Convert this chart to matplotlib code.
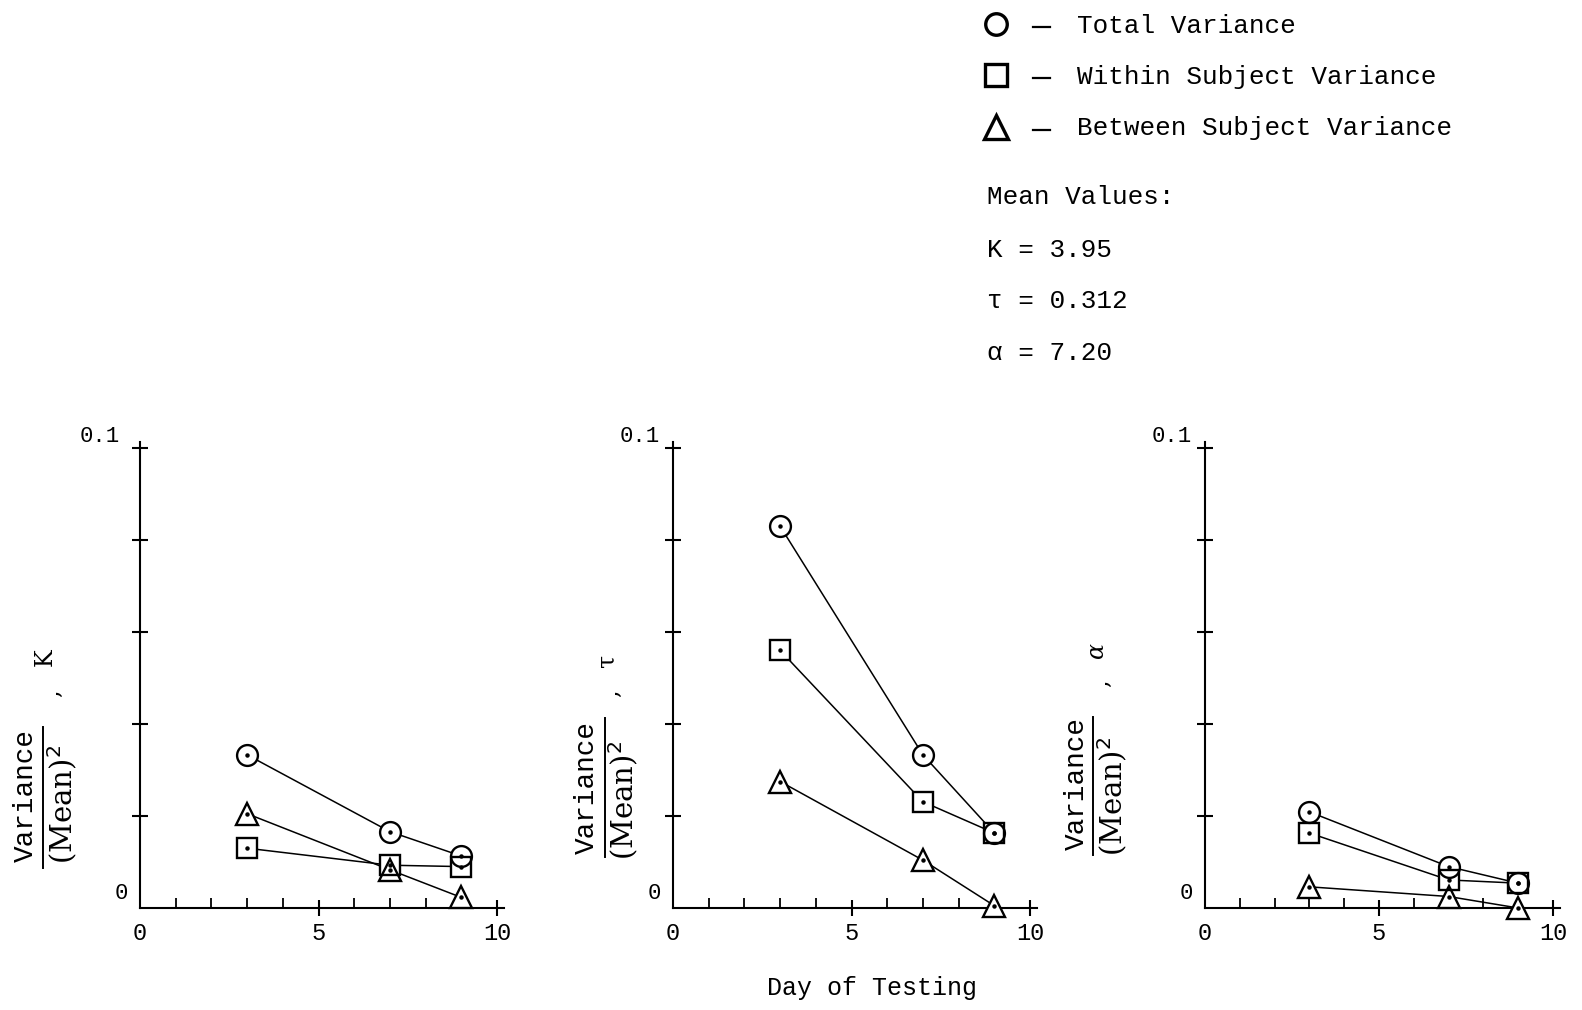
import matplotlib
matplotlib.use("Agg")
import matplotlib.pyplot as plt

# ---------------- data ----------------
days = [3, 7, 9]
param_names = ["K", "τ", "α"]
total_variance = [
    [0.0333, 0.0166, 0.0113],   # K
    [0.0830, 0.0333, 0.0163],   # tau
    [0.0209, 0.0090, 0.0054],   # alpha
]
within_variance = [
    [0.0130, 0.0093, 0.0090],
    [0.0560, 0.0231, 0.0163],
    [0.0163, 0.0061, 0.0054],
]
between_variance = [
    [0.0205, 0.0083, 0.0023],
    [0.0275, 0.0104, 0.0005],
    [0.0046, 0.0025, 0.0000],
]
series_labels = ["Total Variance", "Within Subject Variance", "Between Subject Variance"]
mean_labels = ["K = 3.95", "τ = 0.312", "α = 7.20"]
x_ticks = [0, 5, 10]
x_tick_labels = ["0", "5", "10"]
y_ticks = [0.02, 0.04, 0.06, 0.08, 0.10]

# ---------------- layout ----------------
W, H = 1582, 1010
SERIF = "DejaVu Serif"
MONO = "Liberation Mono"
fig = plt.figure(figsize=(W / 100, H / 100), dpi=100)
fig.patch.set_facecolor("white")

# pixel anchors of x=0, x=10 per panel; y=0 and y=0.1 shared
panel_px = [(140, 497), (673, 1030), (1205, 1553)]
top_label_dx = [-20, -13, -13]
Y0, Y01 = 908, 448
XMAX, YMAX = 10.2, 0.1013

markers = ["o", "s", "^"]
msizes = [15, 14, 15.5]

def add_panel(i):
    x0, x10 = panel_px[i]
    sx = (x10 - x0) / 10.0
    sy = (Y0 - Y01) / 0.1
    ax = fig.add_axes([x0 / W, (H - Y0) / H, XMAX * sx / W, YMAX * sy / H])
    ax.set_xlim(0, XMAX)
    ax.set_ylim(0, YMAX)
    for s in ["top", "right"]:
        ax.spines[s].set_visible(False)
    for s in ["left", "bottom"]:
        ax.spines[s].set_linewidth(1.5)
    ax.patch.set_alpha(0)

    ax.set_xticks(x_ticks)
    ax.set_xticklabels(x_tick_labels, fontfamily=MONO, fontsize=17)
    ax.set_xticks([1, 2, 3, 4, 6, 7, 8, 9], minor=True)
    ax.tick_params(axis="x", which="major", direction="inout", length=12, width=1.5, pad=4)
    ax.tick_params(axis="x", which="minor", direction="in", length=7, width=1.3)
    ax.xaxis.get_major_ticks()[0].tick1line.set_visible(False)
    ax.set_yticks(y_ticks)
    ax.set_yticklabels([])
    ax.tick_params(axis="y", which="major", direction="inout", length=12, width=1.5)

    ax.annotate("0.1", xy=(0, 0.1), xytext=(top_label_dx[i], 1), textcoords="offset pixels",
                ha="right", va="bottom", fontfamily=MONO, fontsize=16)
    ax.annotate("0", xy=(0, 0), xytext=(-12, 4), textcoords="offset pixels",
                ha="right", va="bottom", fontfamily=MONO, fontsize=16)

    data = [total_variance[i], within_variance[i], between_variance[i]]
    for vals in data:
        ax.plot(days, vals, color="black", lw=1.1, zorder=2, clip_on=False)
    for vals, m, ms in zip(data, markers, msizes):
        ax.plot(days, vals, ls="none", marker=m, ms=ms, mfc="white", mec="white",
                mew=0, zorder=3, clip_on=False)
    for vals, m, ms in zip(data, markers, msizes):
        ax.plot(days, vals, ls="none", marker=m, ms=ms, mfc="none", mec="black",
                mew=1.7, zorder=4, clip_on=False)
        ax.plot(days, vals, ls="none", marker="o", ms=2.2, color="black",
                zorder=5, clip_on=False)
    return ax

for i in range(3):
    add_panel(i)

# overlay for annotation in pixel coordinates
ov = fig.add_axes([0, 0, 1, 1], zorder=10)
ov.set_xlim(0, W)
ov.set_ylim(H, 0)
ov.axis("off")
ov.patch.set_alpha(0)

# y-axis labels: (numerator x,y), (line x, y1, y2), (denominator x,y), (comma x,y), (symbol x,y)
ylabel_layout = [
    ((26, 795), (43, 727, 868), (63, 804), (53, 693), (45, 657)),
    ((587, 788), (605, 718, 857), (624, 800), (612, 693), (607, 660)),
    ((1077, 784), (1093, 717, 855), (1113, 796), (1102, 683), (1097, 650)),
]
for i, (num, ln, den, com, sym) in enumerate(ylabel_layout):
    ov.text(num[0], num[1], "Variance", rotation=90, ha="center", va="center",
            fontfamily=MONO, fontsize=20)
    ov.plot([ln[0], ln[0]], [ln[1], ln[2]], color="black", lw=1.4)
    ov.text(den[0], den[1], r"(Mean)$^2$", rotation=90, ha="center", va="center",
            fontfamily=SERIF, fontsize=21)
    ov.text(com[0], com[1], ",", rotation=90, ha="center", va="center",
            fontfamily=SERIF, fontsize=17)
    ov.text(sym[0], sym[1], param_names[i], rotation=90, ha="center", va="center",
            fontfamily=SERIF, fontsize=17, style="italic" if i == 2 else "normal")

# legend
leg_rows = [24, 75, 127]
leg_base = [33, 84, 135]
for m, ms, yr, yb, lab in zip(markers, [15.5, 15.5, 17], leg_rows, leg_base, series_labels):
    ov.plot([996], [yr], marker=m, ms=ms, mfc="none", mec="black", mew=2.4, ls="none")
    ov.plot([1033, 1050], [yr + 3, yr + 3], color="black", lw=1.6)
    ov.text(1077, yb, lab, ha="left", va="baseline", fontfamily=MONO, fontsize=18.7)

ov.text(987, 204, "Mean Values:", ha="left", va="baseline", fontfamily=MONO, fontsize=18.7)
for yb, lab in zip([257, 308, 360], mean_labels):
    ov.text(987, yb, lab, ha="left", va="baseline", fontfamily=MONO, fontsize=18.7)

ov.text(872, 995, "Day of Testing", ha="center", va="baseline", fontfamily=MONO, fontsize=18)

fig.savefig("out.png", dpi=100, facecolor="white")
